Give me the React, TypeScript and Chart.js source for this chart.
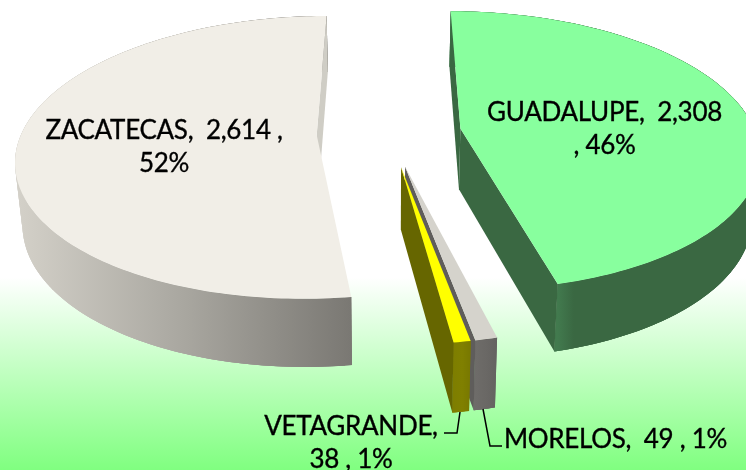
import React, { useEffect, useRef } from "react";
import { Chart, registerables } from "chart.js";

Chart.register(...registerables);

const categories = ["GUADALUPE", "MORELOS", "VETAGRANDE", "ZACATECAS"];
const values = [2308, 49, 38, 2614];
const lineBreaks = ["afterValue", "none", "afterName", "afterValueComma"];
const topColors = ["#88FF9E", "#D5D3CC", "#FFFF00", "#F1EEE7"];
const sideColors = ["#3A6842", "#5F5D5B", "#666600", "#CFCDC5"];
const wallStops = [
  ["#427A4E", "#3A6842", "#3A6842"],
  ["#6E6C69", "#6A6865", "#646260"],
  ["#7E7E00", "#808000", "#787800"],
  ["#D4D1C9", "#A9A7A0", "#7A7873"],
];
const labelAnchors = [
  { x: 604.5, y: 113 },
  { x: 615.5, y: 440 },
  { x: 351, y: 427 },
  { x: 164, y: 131 },
];
const leaderLines = [
  null,
  [[483, 409], [490, 446], [502, 446]],
  [[460, 412], [457, 433], [444, 433]],
  null,
];

// view of a tilted circle with unit radius
const EXPLODE = 0.245;
const CX = 389;
const CY = 132.7;
const AX = 295;
const BY = 137.1;
const PERSP = 0.158;
const LINE_GAP = 33;

function project(X: number, Y: number) {
  const w = 1 - PERSP * Y;
  return { x: CX + (AX * X) / w, y: CY + (BY * Y) / w };
}
function drop(p: { x: number; y: number }) {
  return { x: CX + 0.98 * (p.x - CX), y: p.y + 55.5 + 0.044 * (p.y - 12) };
}
function polygon(ctx: CanvasRenderingContext2D, pts: { x: number; y: number }[]) {
  ctx.beginPath();
  pts.forEach((p, i) => (i ? ctx.lineTo(p.x, p.y) : ctx.moveTo(p.x, p.y)));
  ctx.closePath();
}
function signedArea(pts: { x: number; y: number }[]) {
  let sum = 0;
  pts.forEach((p, i) => {
    const q = pts[(i + 1) % pts.length];
    sum += p.x * q.y - q.x * p.y;
  });
  return sum;
}

function labelLines(i: number): string[] {
  const total = values.reduce((a, b) => a + b, 0);
  const val = values[i].toLocaleString("en-US");
  const pct = Math.round((values[i] / total) * 100) + "%";
  const name = categories[i];
  switch (lineBreaks[i]) {
    case "afterValue":
      return [`${name},  ${val}`, `, ${pct}`];
    case "afterName":
      return [`${name},`, `${val} , ${pct}`];
    case "afterValueComma":
      return [`${name},  ${val} ,`, pct];
    default:
      return [`${name},  ${val} , ${pct}`];
  }
}

const pie3d = {
  id: "pie3d",
  beforeDraw(chart: any) {
    const { ctx, width, height } = chart;
    const g = ctx.createLinearGradient(0, 0, 0, height);
    g.addColorStop(0, "#FFFFFF");
    g.addColorStop(0.59, "#FFFFFF");
    g.addColorStop(1, "#80FF80");
    ctx.save();
    ctx.fillStyle = g;
    ctx.fillRect(0, 0, width, height);
    ctx.restore();
  },
  beforeDatasetDraw(chart: any) {
    const { ctx } = chart;
    const arcs = chart.getDatasetMeta(0).data;
    const order = [3, 0, 1, 2];
    ctx.save();
    ctx.lineJoin = "round";
    for (const i of order) {
      const { startAngle, endAngle } = arcs[i];
      const mid = (startAngle + endAngle) / 2;
      const ox = EXPLODE * Math.cos(mid);
      const oy = EXPLODE * Math.sin(mid);
      const apex = project(ox, oy);
      const rim: { x: number; y: number }[] = [];
      const steps = Math.max(4, Math.ceil((endAngle - startAngle) / 0.02));
      for (let s = 0; s <= steps; s++) {
        const t = startAngle + ((endAngle - startAngle) * s) / steps;
        rim.push(project(ox + Math.cos(t), oy + Math.sin(t)));
      }
      const rimBase = rim.map(drop);
      const apexBase = drop(apex);
      const first = rim[0];
      const last = rim[rim.length - 1];
      // outer wall, with overlapping strips so the silhouette stays closed
      const xs = rim.map((p) => p.x);
      const lo = i === 0 ? last.x : Math.min(...xs);
      const hi = i === 0 ? last.x + 32 : Math.max(...xs);
      const grad = ctx.createLinearGradient(lo, 0, hi, 0);
      const stops = wallStops[i];
      grad.addColorStop(0, stops[0]);
      grad.addColorStop(0.5, stops[1]);
      grad.addColorStop(1, stops[2]);
      ctx.fillStyle = grad;
      polygon(ctx, [...rim, ...rimBase.slice().reverse()]);
      ctx.fill();
      for (let k = 0; k < rim.length - 1; k++) {
        const n = Math.min(k + 2, rim.length - 1);
        polygon(ctx, [rim[k], rim[n], rimBase[n], rimBase[k]]);
        ctx.fill();
      }
      // radial side walls, only those that face the viewer
      ctx.fillStyle = sideColors[i];
      const wallA = [last, apex, apexBase, rimBase[rimBase.length - 1]];
      const wallB = [apex, first, rimBase[0], apexBase];
      for (const wall of [wallA, wallB]) {
        if (signedArea(wall) < 0) {
          polygon(ctx, wall);
          ctx.fill();
        }
      }
      // top face
      ctx.fillStyle = topColors[i];
      polygon(ctx, [apex, ...rim]);
      ctx.fill();
    }
    ctx.restore();
    return false;
  },
  afterDatasetsDraw(chart: any) {
    const { ctx } = chart;
    ctx.save();
    ctx.strokeStyle = "#000000";
    ctx.lineWidth = 1.5;
    leaderLines.forEach((line) => {
      if (!line) return;
      ctx.beginPath();
      line.forEach(([x, y], k) => (k ? ctx.lineTo(x, y) : ctx.moveTo(x, y)));
      ctx.stroke();
    });
    ctx.fillStyle = "#000000";
    ctx.lineWidth = 0.35;
    ctx.font = "26px Lato";
    (ctx as any).letterSpacing = "-0.3px";
    ctx.textAlign = "center";
    ctx.textBaseline = "middle";
    categories.forEach((_, i) => {
      labelLines(i).forEach((text, k) => {
        const y = labelAnchors[i].y + k * LINE_GAP;
        ctx.fillText(text, labelAnchors[i].x, y);
        ctx.strokeText(text, labelAnchors[i].x, y);
      });
    });
    ctx.restore();
  },
};

export default function App() {
  const ref = useRef<HTMLCanvasElement>(null);
  useEffect(() => {
    const chart = new Chart(ref.current as HTMLCanvasElement, {
      type: "pie",
      data: {
        labels: categories,
        datasets: [{ data: values, backgroundColor: topColors, borderWidth: 0 }],
      },
      options: {
        animation: false,
        responsive: false,
        rotation: 0,
        plugins: { legend: { display: false }, tooltip: { enabled: false } },
      },
      plugins: [pie3d],
    } as any);
    return () => chart.destroy();
  }, []);
  return (
    <div style={{ position: "absolute", left: 0, top: 0, width: 746, height: 470, overflow: "hidden" }}>
      <canvas ref={ref} width={746} height={470} style={{ display: "block" }} />
    </div>
  );
}
